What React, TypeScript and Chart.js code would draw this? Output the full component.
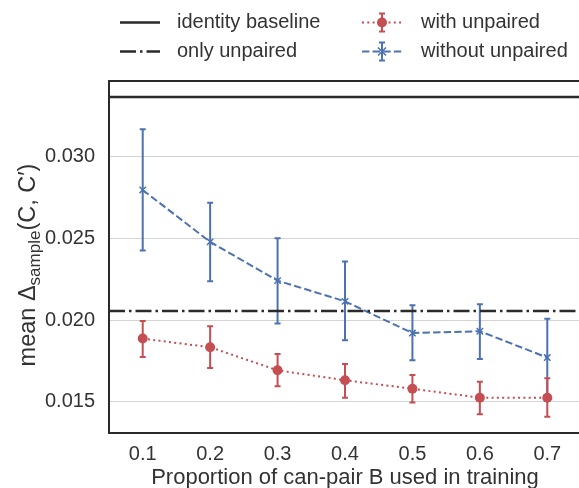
import React, { useEffect, useRef } from 'react';
import { Chart, registerables } from 'chart.js';
Chart.register(...registerables);

const FONT = "'Liberation Sans', Arial, sans-serif";
const TEXT = '#333333';
const BLUE = '#4c72b0';
const RED = '#c44e52';
const DARK = '#2a2a2a';

const xValues = [0.1, 0.2, 0.3, 0.4, 0.5, 0.6, 0.7];
const withUnpaired = [0.01888, 0.01835, 0.01694, 0.01633, 0.01581, 0.01526, 0.01526];
const withLow = [0.01775, 0.01708, 0.01596, 0.01526, 0.01496, 0.01425, 0.0141];
const withHigh = [0.01996, 0.01963, 0.01794, 0.01733, 0.01665, 0.01624, 0.01645];
const withoutUnpaired = [0.02798, 0.0248, 0.02243, 0.02116, 0.01922, 0.01933, 0.01772];
const withoutLow = [0.02427, 0.02239, 0.0198, 0.01878, 0.01755, 0.01763, 0.0153];
const withoutHigh = [0.0317, 0.02719, 0.02502, 0.0236, 0.02092, 0.02098, 0.0201];
const identityBaseline = 0.03367;
const onlyUnpaired = 0.02057;
const xTicks = [0.1, 0.2, 0.3, 0.4, 0.5, 0.6, 0.7];
const yTicks = [0.015, 0.02, 0.025, 0.03];
const xRange = [0.05, 0.75];
const yRange = [0.0131, 0.03465];
const seriesLabels = ['identity baseline', 'only unpaired', 'with unpaired', 'without unpaired'];
const xTitle = 'Proportion of can-pair B used in training';

const DASHDOT = [16, 4, 2.5, 4];
const DASHED = [7.4, 3.2];
const DOTTED = [2, 3.3];

function drawCross(ctx: CanvasRenderingContext2D, x: number, y: number, r: number) {
  ctx.beginPath();
  ctx.moveTo(x - r, y - r); ctx.lineTo(x + r, y + r);
  ctx.moveTo(x - r, y + r); ctx.lineTo(x + r, y - r);
  ctx.stroke();
}

export default function App() {
  const ref = useRef<HTMLCanvasElement>(null);
  useEffect(() => {
    const canvas = ref.current!;

    const errorBars = {
      id: 'errorBars',
      beforeDatasetDraw(chart: any, args: any) {
        const ds = chart.data.datasets[args.index];
        if (!ds.errLow) return;
        const { ctx, chartArea, scales } = chart;
        ctx.save();
        ctx.beginPath();
        ctx.rect(chartArea.left, chartArea.top, chartArea.right - chartArea.left, chartArea.bottom - chartArea.top);
        ctx.clip();
        ctx.strokeStyle = ds.borderColor;
        ctx.lineWidth = 2;
        ctx.setLineDash([]);
        ds.data.forEach((p: any, i: number) => {
          const x = scales.x.getPixelForValue(p.x);
          const y1 = scales.y.getPixelForValue(ds.errLow[i]);
          const y2 = scales.y.getPixelForValue(ds.errHigh[i]);
          ctx.beginPath();
          ctx.moveTo(x, y1); ctx.lineTo(x, y2);
          ctx.moveTo(x - 3, y1); ctx.lineTo(x + 3, y1);
          ctx.moveTo(x - 3, y2); ctx.lineTo(x + 3, y2);
          ctx.stroke();
        });
        ctx.restore();
      },
    };

    const frame = {
      id: 'frame',
      afterDatasetsDraw(chart: any) {
        const { ctx, chartArea: a } = chart;
        ctx.save();
        ctx.strokeStyle = DARK;
        ctx.lineWidth = 2;
        ctx.setLineDash([]);
        ctx.strokeRect(a.left, a.top, a.right - a.left, a.bottom - a.top);
        ctx.restore();
      },
    };

    const yTitle = {
      id: 'yTitle',
      afterDraw(chart: any) {
        const { ctx, chartArea: a } = chart;
        ctx.save();
        const big = `23.5px ${FONT}`;
        const small = `17px ${FONT}`;
        const parts = [
          { t: 'mean \u0394', f: big, dy: 0 },
          { t: 'sample', f: small, dy: 5 },
          { t: '(C, C\u2032)', f: big, dy: 0 },
        ];
        let total = 0;
        const widths = parts.map((p) => { ctx.font = p.f; const w = ctx.measureText(p.t).width; total += w; return w; });
        const cy = (a.top + a.bottom) / 2 + 8;
        ctx.translate(35, cy);
        ctx.rotate(-Math.PI / 2);
        ctx.fillStyle = TEXT;
        ctx.textBaseline = 'alphabetic';
        ctx.textAlign = 'left';
        let x = -total / 2;
        parts.forEach((p, i) => { ctx.font = p.f; ctx.fillText(p.t, x, p.dy); x += widths[i]; });
        ctx.restore();
      },
    };

    const legend = {
      id: 'customLegend',
      afterDraw(chart: any) {
        const { ctx } = chart;
        const ds = chart.data.datasets;
        ctx.save();
        ctx.font = `20px ${FONT}`;
        ctx.fillStyle = TEXT;
        ctx.textBaseline = 'middle';
        ctx.textAlign = 'left';
        const rows = [22.5, 51.5];
        ctx.strokeStyle = DARK; ctx.lineWidth = 2.5;
        ctx.setLineDash([]);
        ctx.beginPath(); ctx.moveTo(120, rows[0]); ctx.lineTo(160, rows[0]); ctx.stroke();
        ctx.setLineDash(DASHDOT);
        ctx.beginPath(); ctx.moveTo(120, rows[1]); ctx.lineTo(160, rows[1]); ctx.stroke();
        ctx.setLineDash([]);
        ctx.fillText(ds[0].label, 177, rows[0]);
        ctx.fillText(ds[1].label, 177, rows[1]);
        const mx = 382;
        ctx.strokeStyle = RED; ctx.lineWidth = 2;
        ctx.setLineDash(DOTTED);
        ctx.beginPath(); ctx.moveTo(362, rows[0]); ctx.lineTo(402, rows[0]); ctx.stroke();
        ctx.setLineDash([]);
        ctx.beginPath();
        ctx.moveTo(mx, rows[0] - 9); ctx.lineTo(mx, rows[0] + 9);
        ctx.moveTo(mx - 3, rows[0] - 9); ctx.lineTo(mx + 3, rows[0] - 9);
        ctx.moveTo(mx - 3, rows[0] + 9); ctx.lineTo(mx + 3, rows[0] + 9);
        ctx.stroke();
        ctx.fillStyle = RED;
        ctx.beginPath(); ctx.arc(mx, rows[0], 5, 0, Math.PI * 2); ctx.fill();
        ctx.strokeStyle = BLUE; ctx.lineWidth = 2;
        ctx.setLineDash(DASHED);
        ctx.beginPath(); ctx.moveTo(362, rows[1]); ctx.lineTo(402, rows[1]); ctx.stroke();
        ctx.setLineDash([]);
        ctx.beginPath();
        ctx.moveTo(mx, rows[1] - 9); ctx.lineTo(mx, rows[1] + 9);
        ctx.moveTo(mx - 3, rows[1] - 9); ctx.lineTo(mx + 3, rows[1] - 9);
        ctx.moveTo(mx - 3, rows[1] + 9); ctx.lineTo(mx + 3, rows[1] + 9);
        ctx.stroke();
        ctx.lineWidth = 1.5;
        drawCross(ctx, mx, rows[1], 4);
        ctx.fillStyle = TEXT;
        ctx.fillText(ds[2].label, 421, rows[0]);
        ctx.fillText(ds[3].label, 421, rows[1]);
        ctx.restore();
      },
    };

    const chart = new Chart(canvas, {
      type: 'line',
      data: {
        datasets: [
          {
            label: seriesLabels[0],
            data: [{ x: xRange[0], y: identityBaseline }, { x: xRange[1], y: identityBaseline }],
            borderColor: DARK, borderWidth: 2.5, pointRadius: 0,
          },
          {
            label: seriesLabels[1],
            data: [{ x: xRange[0], y: onlyUnpaired }, { x: xRange[1], y: onlyUnpaired }],
            borderColor: DARK, borderWidth: 2.5, pointRadius: 0, borderDash: DASHDOT,
          },
          {
            label: seriesLabels[2],
            data: xValues.map((x, i) => ({ x, y: withUnpaired[i] })),
            errLow: withLow, errHigh: withHigh,
            borderColor: RED, borderWidth: 2, borderDash: DOTTED,
            pointStyle: 'circle', pointRadius: 5, pointBackgroundColor: RED, pointBorderColor: RED, pointBorderWidth: 0,
          } as any,
          {
            label: seriesLabels[3],
            data: xValues.map((x, i) => ({ x, y: withoutUnpaired[i] })),
            errLow: withoutLow, errHigh: withoutHigh,
            borderColor: BLUE, borderWidth: 2, borderDash: DASHED,
            pointStyle: 'crossRot', pointRadius: 4.5, pointBorderColor: BLUE, pointBorderWidth: 1.5,
          } as any,
        ],
      },
      options: {
        animation: false,
        responsive: false,
        maintainAspectRatio: false,
        layout: { padding: { top: 81, right: 29, left: 0, bottom: 0 } },
        plugins: { legend: { display: false }, tooltip: { enabled: false } },
        scales: {
          x: {
            type: 'linear',
            min: xRange[0], max: xRange[1],
            afterBuildTicks: (s: any) => { s.ticks = xTicks.map((v) => ({ value: v })); },
            afterFit: (s: any) => { s.height = 67; },
            grid: { display: false, drawTicks: false },
            border: { display: false },
            ticks: {
              font: { family: FONT, size: 20 }, color: TEXT, padding: 9,
              maxRotation: 0, autoSkip: false,
              callback: (v: any) => Number(v).toFixed(1),
            },
            title: {
              display: true, text: xTitle,
              font: { family: FONT, size: 22 }, color: TEXT,
              padding: { top: 0, bottom: 8.8 },
            },
          },
          y: {
            type: 'linear',
            min: yRange[0], max: yRange[1],
            afterBuildTicks: (s: any) => { s.ticks = yTicks.map((v) => ({ value: v })); },
            afterFit: (s: any) => { s.width = 109; },
            grid: { color: '#d4d4d4', lineWidth: 1, drawTicks: false },
            border: { display: false },
            ticks: {
              font: { family: FONT, size: 20 }, color: TEXT, padding: 14,
              callback: (v: any) => Number(v).toFixed(3),
            },
          },
        },
      },
      plugins: [errorBars, frame, yTitle, legend],
    } as any);
    return () => chart.destroy();
  }, []);

  return (
    <div style={{ position: 'absolute', left: 0, top: 0, width: 579, height: 488, overflow: 'hidden', background: '#fff' }}>
      <canvas ref={ref} width={610} height={500} style={{ display: 'block', width: 610, height: 500 }} />
    </div>
  );
}
